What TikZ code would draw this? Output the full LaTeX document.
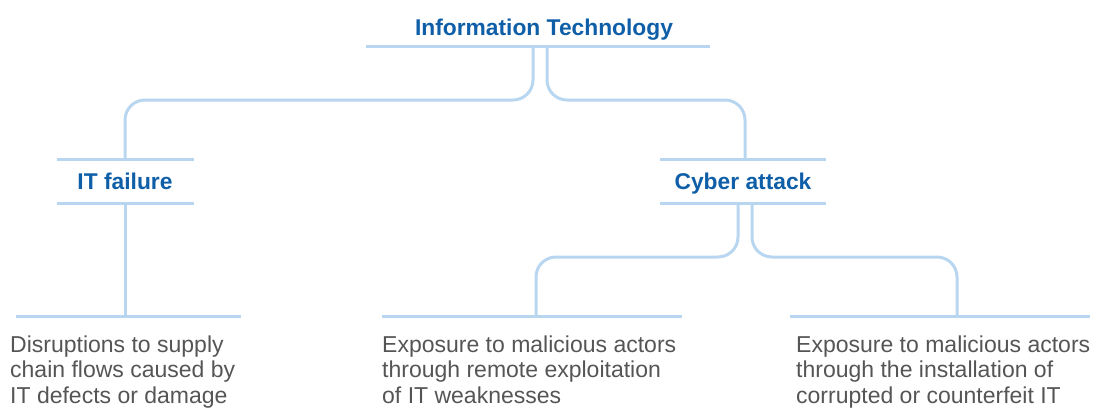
\documentclass[tikz,border=0pt]{standalone}
\usepackage{fontspec}
\setmainfont{Liberation Sans}
\definecolor{hblue}{HTML}{0F5FA8}
\definecolor{lblue}{HTML}{B8D6F0}
\definecolor{tgray}{HTML}{555555}
\begin{document}
\begin{tikzpicture}[x=1pt,y=-1pt,
  rule/.style={draw=lblue,line width=3pt},
  conn/.style={draw=lblue,line width=3pt,rounded corners=20pt},
  head/.style={text=hblue,font=\fontsize{22.8}{26}\selectfont\bfseries,anchor=base,inner sep=0pt},
  desc/.style={text=tgray,font=\fontsize{23}{25.5}\selectfont,anchor=base west,inner sep=0pt,align=left}]
\useasboundingbox (0,0) rectangle (1096,408);
% headers
\node[head] (it) at (544,35) {Information Technology};
\node[head] (fail) at (125,189) {IT failure};
\node[head] (cyber) at (743,189) {Cyber attack};
% descriptions (anchored at the baseline of the last line)
\node[desc] (d1) at (10,403) {Disruptions to supply\\chain flows caused by\\IT defects or damage};
\node[desc] (d2) at (382,403) {Exposure to malicious actors\\through remote exploitation\\of IT weaknesses};
\node[desc] (d3) at (796,403) {Exposure to malicious actors\\through the installation of\\corrupted or counterfeit IT};
% rules
\coordinate (itL) at (366,46); \coordinate (itR) at (710,46);
\coordinate (itA) at (533,46); \coordinate (itB) at (547,46);
\coordinate (fT) at (125,159); \coordinate (fB) at (125,203);
\coordinate (cT) at (745,159);
\coordinate (cA) at (738,203); \coordinate (cB) at (752,203);
\coordinate (b1) at (125,316); \coordinate (b2) at (536,316); \coordinate (b3) at (957,316);
\draw[rule] (itL) -- (itR);
\draw[rule] (57,159) -- (194,159);
\draw[rule] (57,203) -- (194,203);
\draw[rule] (660,159) -- (826,159);
\draw[rule] (660,203) -- (826,203);
\draw[rule] (16,316) -- (241,316);
\draw[rule] (382,316) -- (682,316);
\draw[rule] (790,316) -- (1090,316);
% connectors
\draw[conn] (itA) |- (125,100) -- (fT);
\draw[conn] (itB) |- (745,100) -- (cT);
\draw[conn] (fB) -- (b1);
\draw[conn] (cA) |- (536,257) -- (b2);
\draw[conn] (cB) |- (957,257) -- (b3);
\end{tikzpicture}
\end{document}
